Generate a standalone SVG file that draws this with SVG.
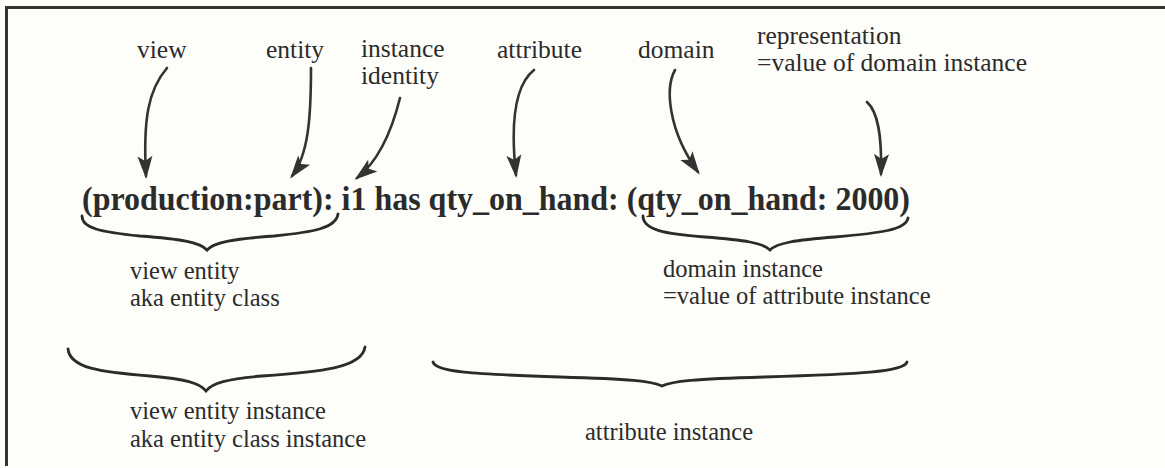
<svg xmlns="http://www.w3.org/2000/svg" width="1165" height="468" viewBox="0 0 1165 468">
<style>
.lbl{font-family:"Liberation Serif","Times New Roman",serif;font-size:25.5px;fill:#2b2b2b}
.low{font-family:"Liberation Serif","Times New Roman",serif;font-size:24.5px;fill:#2b2b2b}
.main{font-family:"Liberation Serif","Times New Roman",serif;font-size:34px;font-weight:bold;fill:#2b2b2b}
.arr{fill:none;stroke:#333;stroke-width:2.6;stroke-linecap:round}
.brace{fill:none;stroke:#2b2b2b;stroke-width:2.8;stroke-linecap:round;stroke-linejoin:miter}
.frame{stroke:#333;stroke-width:3}
</style>
<defs>
<marker id="ah" viewBox="-22 -8 26 16" refX="0" refY="0" markerUnits="userSpaceOnUse" markerWidth="26" markerHeight="16" orient="auto">
<path d="M3,0 L-20,-7.5 L-15,0 L-20,7.5 Z" fill="#333"/>
</marker>
</defs>
<rect width="1165" height="468" fill="#fdfdf9"/>
<g id="frame">
<line class="frame" x1="5" y1="7.5" x2="1165" y2="7.5"/>
<line class="frame" x1="6.5" y1="6" x2="6.5" y2="466"/>
</g>
<g id="view"><text class="lbl" x="137" y="58">view</text></g>
<g id="entity"><text class="lbl" x="266" y="58">entity</text></g>
<g id="instance-identity"><text class="lbl" x="361" y="57">instance</text><text class="lbl" x="361" y="84">identity</text></g>
<g id="attribute"><text class="lbl" x="497" y="58">attribute</text></g>
<g id="domain"><text class="lbl" x="638" y="58">domain</text></g>
<g id="representation"><text class="lbl" x="757" y="44">representation</text><text class="lbl" x="757" y="71">=value of domain instance</text></g>
<g id="statement"><text class="main" x="82" y="210" textLength="828" lengthAdjust="spacingAndGlyphs">(production:part): i1 has qty_on_hand: (qty_on_hand: 2000)</text></g>
<g id="view-entity"><text class="low" x="130" y="279">view entity</text><text class="low" x="130" y="306">aka entity class</text></g>
<g id="domain-instance"><text class="low" x="663" y="277">domain instance</text><text class="low" x="663" y="304">=value of attribute instance</text></g>
<g id="view-entity-instance"><text class="low" x="130" y="419">view entity instance</text><text class="low" x="130" y="447">aka entity class instance</text></g>
<g id="attribute-instance"><text class="low" x="585" y="440">attribute instance</text></g>
<g id="connectors">
<path class="arr" marker-end="url(#ah)" d="M167,68 C148,90 143,120 146,176"/>
<path class="arr" marker-end="url(#ah)" d="M311,68 C311,120 308,155 292,176"/>
<path class="arr" marker-end="url(#ah)" d="M400,98 C392,130 380,160 357,178"/>
<path class="arr" marker-end="url(#ah)" d="M534,70 C515,85 510,120 516,175"/>
<path class="arr" marker-end="url(#ah)" d="M675,70 C665,88 668,130 698,172"/>
<path class="arr" marker-end="url(#ah)" d="M867,102 C878,112 882,135 881,174"/>
<path class="brace" d="M82,216 C82,228 100,232 140,236 C180,239 200,242 207,250 C214,242 234,239 274,236 C314,232 336,228 338,214"/>
<path class="brace" d="M643,216 C643,230 665,234 705,237 C745,240 763,243 770,250 C777,243 795,240 835,237 C880,233 906,230 908,218"/>
<path class="brace" d="M68,349 C70,368 100,372 150,376 C185,379 200,383 206,391 C212,383 227,379 262,376 C320,372 362,368 365,347"/>
<path class="brace" d="M433,362 C436,372 470,374 560,377 C630,379 652,381 662,386 C672,381 694,379 764,377 C860,374 904,372 907,362"/>
</g>
</svg>
